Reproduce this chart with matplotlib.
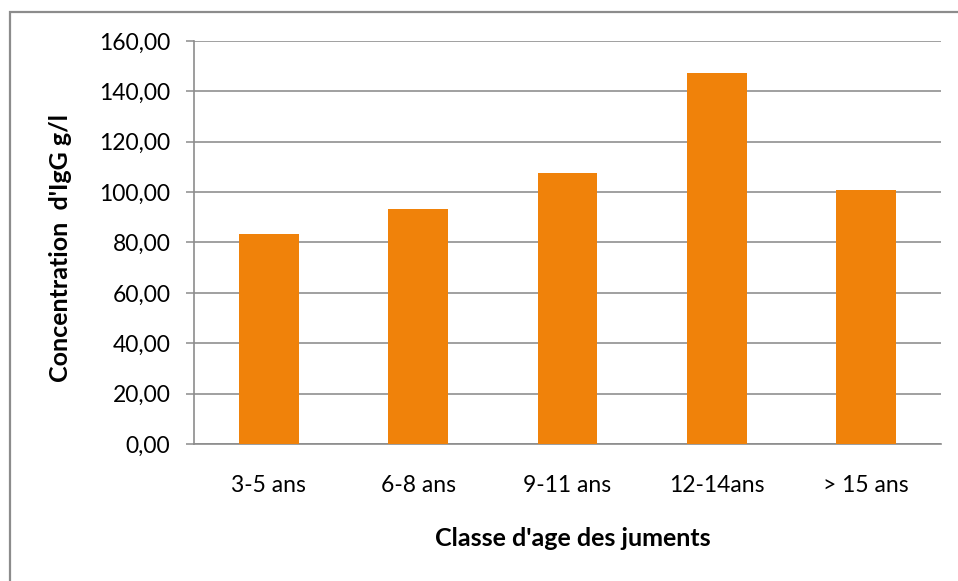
import matplotlib.pyplot as plt
from matplotlib.patches import Rectangle

categories = ["3-5 ans", "6-8 ans", "9-11 ans", "12-14ans", "> 15 ans"]
igg_values = [83.3, 93.3, 107.6, 147.3, 100.7]
y_ticks = [0, 20, 40, 60, 80, 100, 120, 140, 160]

plt.rcParams["font.family"] = ["Lato", "DejaVu Sans"]

W, H = 958, 581
fig = plt.figure(figsize=(W / 100, H / 100), dpi=100)
ax = fig.add_axes([194 / W, 1 - 444 / H, (941 - 194) / W, (444 - 41) / H])

grey = "#8c8c8c"
x = range(len(categories))
ax.bar(x, igg_values, width=0.4, color="#f0820a", zorder=3)

ax.set_xlim(-0.5, len(categories) - 0.5)
ax.set_ylim(0, 160)
ax.set_yticks(y_ticks)
ax.set_yticklabels([f"{v:.2f}".replace(".", ",") for v in y_ticks], fontsize=16.5)
ax.set_xticks(list(x))
ax.set_xticklabels(categories, fontsize=16.5)
ax.yaxis.grid(True, color="#868686", linewidth=1.1, zorder=0)

for side in ["top", "right"]:
    ax.spines[side].set_visible(False)
for side in ["left", "bottom"]:
    ax.spines[side].set_color(grey)
    ax.spines[side].set_linewidth(1.2)
ax.tick_params(axis="y", length=6, color=grey, width=1.1, pad=11)
ax.tick_params(axis="x", length=0, pad=22)

fig.text(61 / W, 1 - 248 / H, "Concentration  d'IgG g/l", rotation=90,
         ha="center", va="center", fontsize=18, fontweight="bold")
fig.text(573 / W, 1 - 539 / H, "Classe d'age des juments",
         ha="center", va="center", fontsize=18, fontweight="bold")

# chart frame (right/bottom edges fall outside the picture)
fig.patches.append(Rectangle((9.5 / W, -0.1), 1.2, 1.1 - 12 / H,
                             transform=fig.transFigure, fill=False,
                             edgecolor=grey, linewidth=1.6))

fig.savefig("out.png", dpi=100)
